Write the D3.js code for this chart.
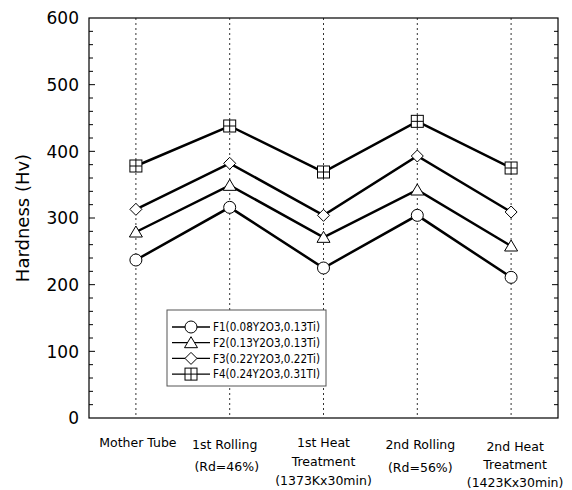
<!DOCTYPE html>
<html>
<head>
<meta charset="utf-8">
<script src="https://cdn.jsdelivr.net/npm/d3@7"></script>
<style>
  body { margin: 0; background: #fff; }
  text { font-family: "DejaVu Sans", sans-serif; fill: #000; }
</style>
</head>
<body>
<script>
// data
var stages = ["Mother Tube", "1st Rolling", "1st Heat Treatment", "2nd Rolling", "2nd Heat Treatment"];
var stageLabels = [
  ["Mother Tube"],
  ["1st Rolling", "(Rd=46%)"],
  ["1st Heat", "Treatment", "(1373Kx30min)"],
  ["2nd Rolling", "(Rd=56%)"],
  ["2nd Heat", "Treatment", "(1423Kx30min)"]
];
var f1 = [237, 316, 225, 304, 211];
var f2 = [279, 349, 271, 342, 258];
var f3 = [313, 382, 304, 393, 309];
var f4 = [378, 438, 369, 445, 375];
var seriesNames = ["F1(0.08Y2O3,0.13Ti)", "F2(0.13Y2O3,0.13Ti)", "F3(0.22Y2O3,0.22Ti)", "F4(0.24Y2O3,0.31TI)"];
var yTicks = [0, 100, 200, 300, 400, 500, 600];

var series = [
  { name: seriesNames[0], values: f1, shape: "circle" },
  { name: seriesNames[1], values: f2, shape: "triangle" },
  { name: seriesNames[2], values: f3, shape: "diamond" },
  { name: seriesNames[3], values: f4, shape: "square" }
];

var W = 572, H = 490;
var pLeft = 89, pRight = 558, pTop = 18, pBottom = 418;

var svg = d3.select("body").append("svg")
  .attr("width", W)
  .attr("height", H);

var x = d3.scalePoint().domain(stages).range([pLeft, pRight]).padding(0.5);
var y = d3.scaleLinear().domain([0, 600]).range([pBottom, pTop]);

// vertical dotted guide lines
svg.selectAll("line.guide")
  .data(stages)
  .enter()
  .append("line")
  .attr("x1", function(d) { return x(d); })
  .attr("x2", function(d) { return x(d); })
  .attr("y1", pTop)
  .attr("y2", pBottom)
  .attr("stroke", "#333")
  .attr("stroke-width", 1)
  .attr("stroke-dasharray", "2,3");

// frame
svg.append("rect")
  .attr("x", pLeft).attr("y", pTop)
  .attr("width", pRight - pLeft).attr("height", pBottom - pTop)
  .attr("fill", "none").attr("stroke", "#000").attr("stroke-width", 1.2);

// inward minor ticks every 20 on left and right
var minor = d3.range(20, 600, 20);
svg.selectAll("line.tl")
  .data(minor).enter().append("line")
  .attr("x1", pLeft).attr("x2", function(d) { return pLeft + (d % 100 === 0 ? 6 : 4); })
  .attr("y1", function(d) { return y(d); }).attr("y2", function(d) { return y(d); })
  .attr("stroke", "#000").attr("stroke-width", 1);
svg.selectAll("line.tr")
  .data(minor).enter().append("line")
  .attr("x1", pRight).attr("x2", function(d) { return pRight - (d % 100 === 0 ? 6 : 4); })
  .attr("y1", function(d) { return y(d); }).attr("y2", function(d) { return y(d); })
  .attr("stroke", "#000").attr("stroke-width", 1);

// y axis labels
var yAxis = d3.axisLeft(y).tickValues(yTicks).tickSize(0).tickPadding(10);
var gy = svg.append("g").attr("transform", "translate(" + pLeft + ",0)").call(yAxis);
gy.select(".domain").remove();
gy.selectAll("text").attr("font-size", "17px").attr("font-family", "DejaVu Sans, sans-serif").attr("dy", "0.35em");

svg.append("text")
  .attr("transform", "translate(29," + ((pTop + pBottom) / 2) + ") rotate(-90)")
  .attr("text-anchor", "middle")
  .attr("font-size", "18px")
  .text("Hardness  (Hv)");

// x labels
var lineY = [
  [443],
  [445, 467],
  [443, 462, 481],
  [445, 468],
  [447, 465, 483]
];
var xShift = [2, -5, 0, 3, 4];
stages.forEach(function(s, i) {
  var t = svg.append("text")
    .attr("text-anchor", "middle")
    .attr("font-size", "12.5px");
  stageLabels[i].forEach(function(ln, j) {
    t.append("tspan")
      .attr("x", x(s) + xShift[i] + (j > 0 && i === 1 ? 2 : 0))
      .attr("y", lineY[i][j] + 4)
      .text(ln);
  });
});

// marker drawing
function drawMarker(g, shape, cx, cy) {
  var s = 6;
  if (shape === "circle") {
    g.append("circle").attr("cx", cx).attr("cy", cy).attr("r", s)
      .attr("fill", "#fff").attr("stroke", "#000").attr("stroke-width", 1);
  } else if (shape === "triangle") {
    g.append("path")
      .attr("d", "M" + cx + "," + (cy - s) + "L" + (cx + s + 0.5) + "," + (cy + s - 1) + "L" + (cx - s - 0.5) + "," + (cy + s - 1) + "Z")
      .attr("fill", "#fff").attr("stroke", "#000").attr("stroke-width", 1);
  } else if (shape === "diamond") {
    g.append("path")
      .attr("d", "M" + cx + "," + (cy - s) + "L" + (cx + s) + "," + cy + "L" + cx + "," + (cy + s) + "L" + (cx - s) + "," + cy + "Z")
      .attr("fill", "#fff").attr("stroke", "#000").attr("stroke-width", 1);
  } else {
    g.append("rect").attr("x", cx - s).attr("y", cy - s).attr("width", 2 * s).attr("height", 2 * s)
      .attr("fill", "#fff").attr("stroke", "#000").attr("stroke-width", 1);
    g.append("path")
      .attr("d", "M" + cx + "," + (cy - s) + "V" + (cy + s) + "M" + (cx - s) + "," + cy + "H" + (cx + s))
      .attr("stroke", "#000").attr("stroke-width", 1);
  }
}

var line = d3.line()
  .x(function(d, i) { return x(stages[i]); })
  .y(function(d) { return y(d); });

series.forEach(function(sr) {
  svg.append("path")
    .datum(sr.values)
    .attr("d", line)
    .attr("fill", "none")
    .attr("stroke", "#000")
    .attr("stroke-width", 2.5);
});
series.forEach(function(sr) {
  var g = svg.append("g");
  sr.values.forEach(function(v, i) {
    drawMarker(g, sr.shape, x(stages[i]), y(v));
  });
});

// legend
var lg = svg.append("g");
lg.append("rect")
  .attr("x", 167).attr("y", 310).attr("width", 159).attr("height", 76)
  .attr("fill", "#fff").attr("stroke", "#555").attr("stroke-width", 1);
series.forEach(function(sr, i) {
  var ly = 327 + i * 15.7;
  lg.append("line").attr("x1", 172).attr("x2", 210).attr("y1", ly).attr("y2", ly)
    .attr("stroke", "#000").attr("stroke-width", 1.3);
  drawMarker(lg, sr.shape, 191, ly);
  lg.append("text").attr("x", 213).attr("y", ly).attr("dy", "0.35em")
    .attr("font-size", "12px")
    .attr("font-family", "'DejaVu Sans Condensed', 'DejaVu Sans', sans-serif")
    .attr("textLength", 107)
    .attr("lengthAdjust", "spacingAndGlyphs")
    .text(sr.name);
});
</script>
</body>
</html>
